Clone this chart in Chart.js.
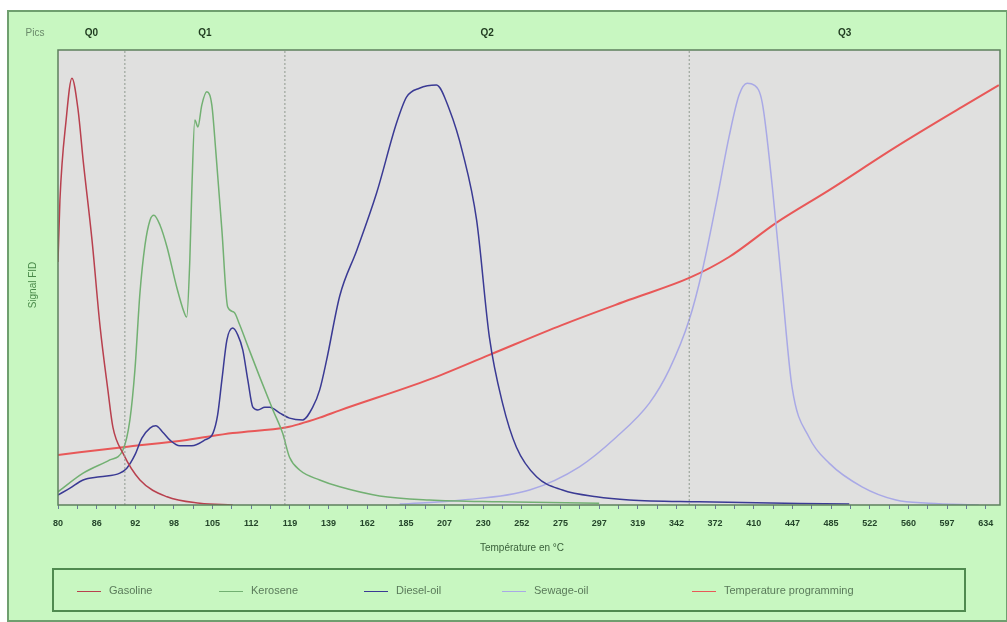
<!DOCTYPE html>
<html>
<head>
<meta charset="utf-8">
<script src="https://cdn.jsdelivr.net/npm/chart.js@4"></script>
<style>
  html, body { margin: 0; padding: 0; background: #fff; }
  #wrap { position: relative; width: 1007px; height: 622px; font-family: "Liberation Sans", Arial, sans-serif; }
  #legend { position: absolute; left: 52px; top: 568px; width: 914px; height: 44px; border: 2px solid #4f8a4f; box-sizing: border-box; }
  #legend .item { position: absolute; top: 14px; font-size: 11px; color: #5a7a5a; white-space: nowrap; }
  #legend .item span { display: inline-block; width: 24px; height: 0; border-top: 1.5px solid; vertical-align: middle; margin-right: 8px; }
</style>
</head>
<body>
<div id="wrap">
  <canvas id="chart" width="1007" height="622"></canvas>
  <div id="legend"></div>
</div>
<script>
// temperature axis labels (°C), one per tick position
const tempLabels = ['80', '86', '92', '98', '105', '112', '119', '139', '162', '185', '207', '230', '252',
    '275', '297', '319', '342', '372', '410', '447', '485', '522', '560', '597', '634'];

// region boundaries (tick position) and names
const regionBounds = [1.73, 5.87, 16.33];
const regionNames = ['Q0', 'Q1', 'Q2', 'Q3'];

// signals: [tick position, FID signal %]
const gasoline = [[0, 53.4], [0.05, 67], [0.21, 84.6], [0.36, 93.8], [0.52, 86.8], [0.65, 75.8], [0.88, 58.2],
    [1.09, 39.1], [1.29, 25.3], [1.42, 17.1], [1.68, 11.4], [2.12, 5.5], [2.82, 1.8], [3.67, 0.4], [4.52, 0]];

const kerosene = [[0, 2.9], [0.65, 7], [1.34, 9.9], [1.68, 12.1], [1.86, 18.7], [1.99, 29.7], [2.12, 46.6],
    [2.25, 57.1], [2.38, 62.6], [2.48, 63.7], [2.64, 61.5], [2.82, 56.7], [3.07, 47.9], [3.26, 42.4], [3.33, 41.3],
    [3.41, 53.8], [3.46, 68.6], [3.54, 84.6], [3.62, 83.1], [3.72, 87.9], [3.85, 90.8], [3.98, 87.9], [4.08, 78],
    [4.24, 60.4], [4.39, 43.5], [4.55, 42.4], [4.70, 39.6], [4.88, 35.6], [5.22, 28.1], [5.56, 20.9], [5.81, 15.8],
    [5.99, 10.5], [6.25, 7.7], [6.77, 5.5], [7.29, 4], [8.32, 2], [9.61, 1.1], [11.42, 0.7], [14, 0.4]];

const diesel = [[0, 2.2], [0.31, 3.7], [0.65, 5.5], [1.09, 6.2], [1.60, 7], [1.78, 8.1], [1.99, 11], [2.17, 14.7],
    [2.38, 16.9], [2.53, 17.4], [2.71, 16], [2.89, 14.3], [3.15, 13], [3.46, 13], [3.80, 14.3], [4.01, 15.8],
    [4.13, 19.8], [4.24, 27.5], [4.37, 36.3], [4.52, 38.9], [4.65, 37.4], [4.78, 34.1], [4.91, 27.5], [5.04, 21.5],
    [5.17, 20.9], [5.35, 21.5], [5.48, 21.5], [5.74, 20.2], [5.99, 19.1], [6.33, 18.7], [6.59, 21.5], [6.77, 25.3],
    [6.95, 31.9], [7.29, 46], [7.73, 56], [8.24, 68.5], [8.76, 84], [9.02, 89.7], [9.35, 91.6], [9.79, 92.3],
    [10.13, 86.8], [10.47, 77.4], [10.83, 62.6], [11.16, 36.9], [11.50, 22.4], [11.86, 12.7], [12.38, 6.2],
    [13.05, 3.3], [13.93, 1.8], [14.78, 1.1], [16.59, 0.7], [20.47, 0.2]];

const sewage = [[8.84, 0.2], [10.47, 1.1], [12.2, 3.3], [13.49, 8.4], [14.44, 14.9], [15.30, 22.4], [15.81, 29.7],
    [16.33, 40.7], [16.67, 51.6], [17.03, 66.4], [17.36, 80.9], [17.62, 90.1], [17.83, 92.7], [18.01, 92.3],
    [18.22, 88.4], [18.48, 69.9], [18.73, 47.9], [18.99, 25.9], [19.43, 14.9], [19.95, 9.2], [20.80, 4],
    [21.68, 1.1], [22.53, 0.4], [23.82, 0]];

const tempProgram = [[0, 11], [1.68, 12.7], [3.33, 14.3], [4.52, 15.8], [5.92, 17.1], [6.25, 17.8], [6.77, 19.2],
    [7.29, 20.8], [9.61, 27.6], [11.16, 33], [13.05, 39.6], [14.78, 45.1], [16.33, 49.9], [17.36, 54.5],
    [18.58, 62], [19.95, 69.2], [21.68, 78.7], [23.39, 87.5], [24.34, 92.3]];

const seriesNames = ['Gasoline', 'Kerosene', 'Diesel-oil', 'Sewage-oil', 'Temperature programming'];
const seriesColors = ['#b8404e', '#72b072', '#3a3a94', '#a9a9e6', '#e85858'];
const legendLeft = [23, 165, 310, 448, 638];

const toPoints = arr => arr.map(p => ({ x: p[0], y: p[1] }));

const lineSets = [gasoline, kerosene, diesel, sewage, tempProgram].map((arr, i) => ({
    label: seriesNames[i],
    data: toPoints(arr),
    borderColor: seriesColors[i],
    borderWidth: i === 4 ? 2 : 1.5,
    pointRadius: 0,
    cubicInterpolationMode: 'monotone',
    fill: false
}));

const boundSets = regionBounds.map(b => ({
    label: 'bound',
    data: [{ x: b, y: 0 }, { x: b, y: 100 }],
    borderColor: '#8f9a8f',
    borderWidth: 1,
    borderDash: [2, 2],
    pointRadius: 0
}));

const frame = {
    id: 'frame',
    beforeDraw(chart) {
        const ctx = chart.ctx, a = chart.chartArea;
        ctx.save();
        ctx.fillStyle = '#ffffff';
        ctx.fillRect(0, 0, chart.width, chart.height);
        ctx.fillStyle = '#c8f7c1';
        ctx.fillRect(7, 10, chart.width - 7, chart.height - 10);
        ctx.strokeStyle = '#6f9f6f';
        ctx.lineWidth = 2;
        ctx.strokeRect(8, 11, chart.width - 8, chart.height - 12);
        ctx.fillStyle = '#e0e0df';
        ctx.fillRect(a.left, a.top, a.right - a.left, a.bottom - a.top);
        ctx.restore();
    },
    afterDraw(chart) {
        const ctx = chart.ctx, a = chart.chartArea, xs = chart.scales.x;
        ctx.save();
        ctx.strokeStyle = '#5d805d';
        ctx.lineWidth = 1.5;
        ctx.strokeRect(a.left, a.top, a.right - a.left, a.bottom - a.top);
        // region labels
        const edges = [xs.min, ...regionBounds, xs.max];
        ctx.fillStyle = '#1f3a1f';
        ctx.font = 'bold 10px "Liberation Sans", Arial, sans-serif';
        ctx.textAlign = 'center';
        ctx.textBaseline = 'middle';
        regionNames.forEach((n, i) => {
            const mid = (xs.getPixelForValue(edges[i]) + xs.getPixelForValue(edges[i + 1])) / 2;
            ctx.fillText(n, mid, 33);
        });
        ctx.font = '10px "Liberation Sans", Arial, sans-serif';
        ctx.fillStyle = '#6a8a6a';
        ctx.fillText('Pics', 35, 33);
        // axis titles
        ctx.fillStyle = '#3a603a';
        ctx.fillText('Température en °C', 522, 548);
        ctx.translate(33, 285);
        ctx.rotate(-Math.PI / 2);
        ctx.fillStyle = '#4a8a4a';
        ctx.fillText('Signal FID', 0, 0);
        ctx.restore();
    }
};

new Chart(document.getElementById('chart'), {
    type: 'line',
    data: { datasets: [...boundSets, ...lineSets] },
    options: {
        responsive: false,
        animation: false,
        layout: { padding: { left: 58, right: 7, top: 50, bottom: 0 } },
        plugins: { legend: { display: false }, tooltip: { enabled: false } },
        scales: {
            x: {
                type: 'linear',
                min: 0,
                max: 24.37,
                afterFit(scale) { scale.height = 117; },
                afterBuildTicks(scale) {
                    const t = [];
                    for (let v = 0; v <= 24; v += 0.5) t.push({ value: v });
                    scale.ticks = t;
                },
                grid: { display: true, drawOnChartArea: false, drawTicks: true, tickLength: 4, color: '#6a7a9a' },
                border: { display: false },
                ticks: {
                    autoSkip: false,
                    maxRotation: 0,
                    padding: 9,
                    color: '#24452a',
                    font: { family: '"Liberation Sans", Arial, sans-serif', size: 9, weight: 'bold' },
                    callback: v => Number.isInteger(v) ? tempLabels[v] : ''
                }
            },
            y: { display: false, min: 0, max: 100 }
        }
    },
    plugins: [frame]
});

// legend box
const legend = document.getElementById('legend');
seriesNames.forEach((name, i) => {
    const el = document.createElement('div');
    el.className = 'item';
    el.style.left = legendLeft[i] + 'px';
    el.innerHTML = '<span style="border-color:' + seriesColors[i] + '"></span>' + name;
    legend.appendChild(el);
});
</script>
</body>
</html>
